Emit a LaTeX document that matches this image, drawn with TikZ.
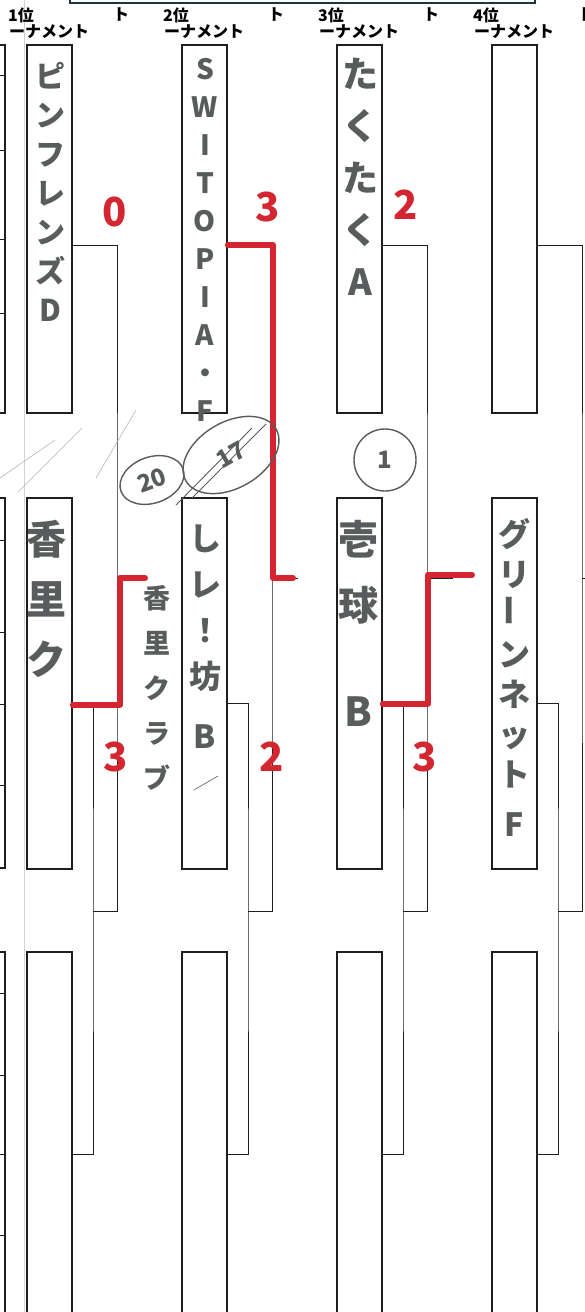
\documentclass[tikz,border=0pt]{standalone}
\usepackage{fontspec}
\usepackage{graphicx}
\usetikzlibrary{shapes.geometric}
\newfontfamily\jpfont{Noto Sans CJK JP}
\definecolor{ink}{RGB}{30,30,30}
\definecolor{pencil}{RGB}{88,92,92}
\definecolor{marker}{RGB}{212,38,48}
\definecolor{bar}{RGB}{25,55,60}
\begin{document}
\begin{tikzpicture}[x=1pt, y=-1pt,
	namebox/.style={draw=ink, line width=1.8pt, minimum width=45pt, minimum height=368pt, inner sep=0pt},
	bracket/.style={draw=ink, line width=0.8pt},
	win/.style={draw=marker, line width=6pt, line cap=round, line join=round},
	score/.style={text=marker, inner sep=0pt, font=\jpfont\bfseries\fontsize{40}{40}\selectfont},
	hand/.style 2 args={text=pencil, align=center, inner sep=0pt, font=\jpfont\bfseries\fontsize{#1}{#2}\selectfont},
	ring/.style={draw=pencil, ellipse, line width=1.4pt, text=pencil, font=\jpfont\bfseries\fontsize{24}{24}\selectfont},
	head/.style={anchor=west, inner sep=0pt, font=\jpfont\bfseries\fontsize{16}{16}\selectfont}]

	\useasboundingbox (0,0) rectangle (585,1312);
	\clip (0,0) rectangle (585,1312);

	% sheet
	\draw [gray!35, line width=0.8pt] (24,0) -- (24,1312);
	\draw [bar, line width=2.2pt] (70,-10) rectangle (535,3);
	\draw [ink, line width=1.8pt] (-5,45) -- (5,45) -- (5,413) -- (-5,413);
	\draw [ink, line width=1.8pt] (-5,498) -- (5,498) -- (5,868) -- (-5,868);
	\draw [ink, line width=1.8pt] (-5,952) -- (5,952) -- (5,1320);
	\foreach \t in {75,150,239,313,540,632,704,785,993,1075,1154,1235}
		\draw [bracket] (-5,\t) -- (5,\t);

	% headings
	\foreach \c/\x in {1/0,2/155,3/310,4/465} {
		\node [head] (h\c) at (8+\x,15) {\c 位};
		\node [head] (t\c) at (113+\x,14) {ト};
		\node [head] (k\c) at (9+\x,32) {ーナメント};
	}

	% boxes and brackets
	\foreach \c/\x in {0/0,1/155,2/310,3/465} {
		\node [namebox] (b\c1) at (49.5+\x,229) {};
		\node [namebox, minimum height=371pt] (b\c2) at (49.5+\x,683.5) {};
		\node [namebox] (b\c3) at (49.5+\x,1136) {};
		\coordinate (m\c) at (117+\x,578);
		\coordinate (n\c) at (93+\x,911);
		\draw [bracket] ([yshift=-16pt]b\c1.east) -| (m\c) |- (n\c);
		\draw [bracket] ([yshift=-20pt]b\c2.east) -| (n\c) |- ([yshift=-18pt]b\c3.east);
		\draw [bracket] (m\c) -- ++(26,0);
	}

	% results
	\draw [win] ([yshift=-21pt]b02.east) -| ([xshift=3pt]m0) -- ++(25,0);
	\draw [win] ([yshift=-16pt]b11.east) -| ([xshift=1pt]m1) -- ++(20,0);
	\draw [win] ([yshift=-20pt]b22.east) -| ([xshift=1pt,yshift=3pt]m2) -- ++(44,0);

	\node [score] (s01) at (115,212) {0};
	\node [score] (s11) at (268,207) {3};
	\node [score] (s21) at (406,205) {2};
	\node [score] (s02) at (116,757) {3};
	\node [score] (s12) at (272,757) {2};
	\node [score] (s22) at (425,757) {3};

	% names
	\node [hand={30}{39}, anchor=north] (n01) at (50,62) {ピ\\ン\\フ\\レ\\ン\\ズ\\D};
	\node [hand={28}{38}, anchor=north] (n11) at (205,58) {S\\W\\I\\T\\O\\P\\I\\A\\・\\F};
	\node [hand={36}{52}, anchor=north] (n21) at (360,58) {た\\く\\た\\く\\A};
	\node [hand={40}{60}, anchor=north] (n02) at (47,520) {香\\里\\ク};
	\node [hand={32}{46}, anchor=north] (n12) at (205,525) {し\\レ\\！\\坊\\[14pt]B};
	\node [hand={40}{66}, anchor=north] (n22) at (358,520) {壱\\球\\[40pt]B};
	\node [hand={32}{40}, anchor=north] (n32) at (514,518)
		{グ\\リ\\\rotatebox{90}{ー}\\ン\\ネ\\ッ\\ト\\[10pt]F};

	% notes
	\node [hand={27}{45}, anchor=north] (a1) at (157,585) {香\\里\\ク\\ラ\\ブ};
	\node [ring, minimum width=66pt, minimum height=46pt, rotate=20] (e20) at (152,480) {20};
	\node [ring, minimum width=104pt, minimum height=66pt, rotate=30] (e17) at (231,455) {17};
	\node [ring, circle, minimum size=62pt] (e1) at (385,460) {1};
	\draw [pencil, line width=0.9pt] (176,505) -- (252,428);
	\draw [pencil, line width=0.9pt] (192,498) -- (266,424);
	\draw [pencil, line width=0.6pt] (194,790) -- (218,776);
	\draw [pencil!45, line width=0.6pt] (0,478) -- (55,440);
	\draw [pencil!45, line width=0.6pt] (18,492) -- (82,428);
	\draw [pencil!45, line width=0.6pt] (96,478) -- (136,410);

\end{tikzpicture}
\end{document}
